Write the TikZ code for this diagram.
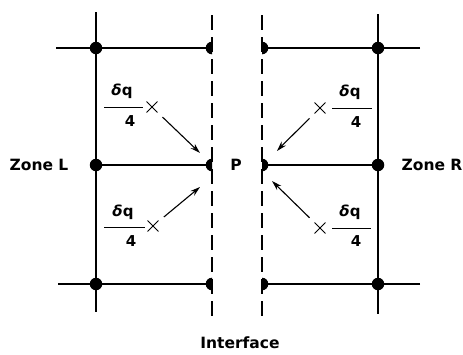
\documentclass[tikz,border=0pt]{standalone}
\usepackage{fontspec}
\setmainfont{DejaVu Sans}
\usetikzlibrary{shapes.misc,arrows.meta}
\begin{document}
\begin{tikzpicture}[x=1pt,y=-1pt,
  grid/.style={line width=1.9pt},
  iface/.style={line width=1.9pt, dash pattern=on 15pt off 7pt},
  fulldot/.style={circle, fill=black, inner sep=0pt, minimum size=12.5pt},
  lbl/.style={font=\bfseries\fontsize{15.5}{17}\selectfont, inner sep=0pt},
  num/.style={font=\bfseries\fontsize{15}{17}\selectfont, inner sep=0pt},
  xmark/.style={draw, cross out, line width=0.9pt, minimum size=10pt, inner sep=0pt},
  flux/.style={line width=1.1pt, -{Stealth[length=10pt,width=6pt]}, shorten <=7pt},
  fracbar/.style={line width=0.9pt}]
\useasboundingbox (0,0) rectangle (463,354);
% left grid
\coordinate (lvt) at (96,12); \coordinate (lvb) at (96,312);
\coordinate (lt0) at (56,48); \coordinate (lb0) at (58,284);
\coordinate (lt1) at (212,48); \coordinate (lm1) at (212,165); \coordinate (lb1) at (212,284);
% right grid
\coordinate (rvt) at (378,14); \coordinate (rvb) at (378,314);
\coordinate (rt0) at (420,48); \coordinate (rb0) at (420,284);
\coordinate (rt1) at (262,48); \coordinate (rm1) at (262,165); \coordinate (rb1) at (262,284);
% full dots
\foreach \n/\p in {dl1/{96,48},dl2/{96,165},dl3/{96,284},dr1/{378,48},dr2/{378,165},dr3/{378,284}}
  \node[fulldot] (\n) at (\p) {};
\draw[grid] (lvt) -- (lvb);
\draw[grid] (lt0) -- (lt1);
\draw[grid] (dl2.center) -- (lm1);
\draw[grid] (lb0) -- (lb1);
\draw[grid] (rvt) -- (rvb);
\draw[grid] (rt0) -- (rt1);
\draw[grid] (dr2.center) -- (rm1);
\draw[grid] (rb0) -- (rb1);
% interface dashed lines
\coordinate (dlt) at (212,15); \coordinate (dlb) at (212,318);
\coordinate (drt) at (262,15); \coordinate (drb) at (262,318);
\draw[iface] (dlt) -- (dlb);
\draw[iface] (drt) -- (drb);
% half dots
\foreach \y in {48,165,284} {
  \fill (212,\y-6.3) arc[start angle=90,end angle=270,radius=6.3pt] -- cycle;
  \fill (262,\y-6.3) arc[start angle=90,end angle=-90,radius=6.3pt] -- cycle;
}
% labels
\node[lbl] (zl) at (39,165) {Zone L};
\node[lbl] (zr) at (432,165) {Zone R};
\node[lbl] (p) at (236,165) {P};
\node[lbl] (if) at (240,343) {Interface};
% heat fractions: left upper
\node[num] (q1) at (122,91) {\itshape δ\upshape q};
\node[num] (f1) at (130,121) {4};
\coordinate (b1a) at (104,107); \coordinate (b1b) at (143,107);
\draw[fracbar] (b1a) -- (b1b);
\node[xmark] (x1) at (152,107) {};
\coordinate (a1) at (200,153);
\draw[flux] (x1) -- (a1);
% left lower
\node[num] (q2) at (123,212) {\itshape δ\upshape q};
\node[num] (f2) at (131,241) {4};
\coordinate (b2a) at (104,227); \coordinate (b2b) at (145,227);
\draw[fracbar] (b2a) -- (b2b);
\node[xmark] (x2) at (153,226) {};
\coordinate (a2) at (200,187);
\draw[flux] (x2) -- (a2);
% right upper
\node[num] (q3) at (350,92) {\itshape δ\upshape q};
\node[num] (f3) at (356,122) {4};
\coordinate (b3a) at (332,108); \coordinate (b3b) at (372,108);
\draw[fracbar] (b3a) -- (b3b);
\node[xmark] (x3) at (320,108) {};
\coordinate (a3) at (277,151);
\draw[flux] (x3) -- (a3);
% right lower
\node[num] (q4) at (350,212) {\itshape δ\upshape q};
\node[num] (f4) at (356,241) {4};
\coordinate (b4a) at (332,228); \coordinate (b4b) at (371,228);
\draw[fracbar] (b4a) -- (b4b);
\node[xmark] (x4) at (320,228) {};
\coordinate (a4) at (272,181);
\draw[flux] (x4) -- (a4);
\end{tikzpicture}
\end{document}
